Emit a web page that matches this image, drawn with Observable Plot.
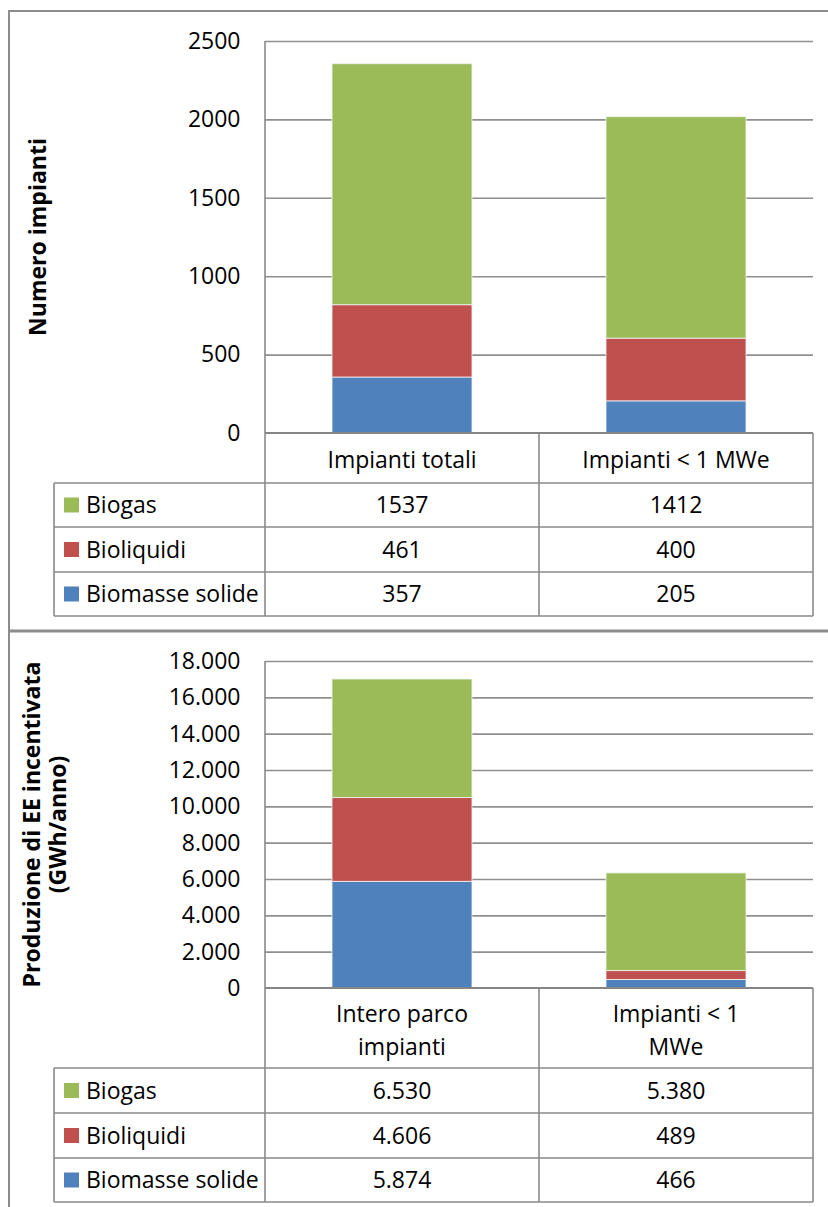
<!DOCTYPE html>
<html><head><meta charset="utf-8">
<script src="https://cdn.jsdelivr.net/npm/d3@7"></script>
<script src="https://cdn.jsdelivr.net/npm/@observablehq/plot@0.6"></script>
<style>
body{margin:0;background:#fff;}
#wrap{position:relative;width:828px;height:1207px;overflow:hidden;font-family:"Open Sans",sans-serif;}
#wrap svg{position:absolute;left:0;}
</style></head><body><div id="wrap"></div>
<script>
// ---- data ----
const series = ["Biomasse solide", "Bioliquidi", "Biogas"];      // stack order bottom -> top
const tableOrder = ["Biogas", "Bioliquidi", "Biomasse solide"]; // table row order
const colors = ["#4F81BD", "#C0504D", "#9BBB59"];

const catsTop = ["Impianti totali", "Impianti < 1 MWe"];
const biogasTop = [1537, 1412];
const bioliquidiTop = [461, 400];
const biomasseTop = [357, 205];
const ticksTop = [0, 500, 1000, 1500, 2000, 2500];

const catsBottom = ["Intero parco impianti", "Impianti < 1 MWe"];
const catsBottomLines = [["Intero parco", "impianti"], ["Impianti < 1", "MWe"]];
const biogasBottom = [6530, 5380];
const bioliquidiBottom = [4606, 489];
const biomasseBottom = [5874, 466];
const ticksBottom = [0, 2000, 4000, 6000, 8000, 10000, 12000, 14000, 16000, 18000];

const itLocale = d3.formatLocale({decimal: ",", thousands: ".", grouping: [3], currency: ["€", ""]});
const fmtIt = itLocale.format(",d");
const fmtPlain = d3.format("d");

function rows(cats, bm, bl, bg) {
  const out = [];
  cats.forEach((c, i) => {
    out.push({cat: c, series: "Biomasse solide", value: bm[i]});
    out.push({cat: c, series: "Bioliquidi", value: bl[i]});
    out.push({cat: c, series: "Biogas", value: bg[i]});
  });
  return out;
}

const wrap = document.getElementById("wrap");
const GRID = "#8f8f8f";
const LINE = "#8a8a8a";
const FS = 23;
const FONT = "'Open Sans', sans-serif";

function panel(o) {
  const data = rows(o.cats, o.bm, o.bl, o.bg);
  const plot = Plot.plot({
    width: 828, height: o.height,
    marginTop: o.mTop, marginBottom: o.mBottom, marginLeft: 265, marginRight: 15,
    style: {fontFamily: FONT, fontSize: FS + "px", color: "#000", background: "transparent"},
    x: {domain: o.cats, paddingInner: 0.49, paddingOuter: 0.245, axis: null},
    y: {domain: [0, o.ticks[o.ticks.length - 1]], label: null},
    color: {domain: series, range: colors},
    marks: [
      Plot.gridY(o.ticks.slice(1), {stroke: GRID, strokeOpacity: 1, strokeWidth: 1.6}),
      Plot.barY(data, {x: "cat", y: "value", fill: "series", order: series, stroke: "#f4f4f4", strokeWidth: 0.8}),
      Plot.axisY(o.ticks, {tickSize: 0, tickPadding: 25, tickFormat: o.fmt, label: null, fontSize: FS})
    ]
  });
  plot.style.top = o.top + "px";
  wrap.appendChild(plot);

  const xs = plot.scale("x"), ys = plot.scale("y");
  const svg = d3.select(plot);
  const g = svg.append("g").attr("font-family", FONT).attr("font-size", FS).attr("fill", "#000");
  const centers = o.cats.map(c => xs.apply(c) + xs.bandwidth / 2);
  const colX = [265, (centers[0] + centers[1]) / 2, 828 - 15];
  const y0 = ys.apply(0);
  const rY = o.rowYs;
  const yTopPlot = ys.apply(o.ticks[o.ticks.length - 1]);
  const tableBottom = rY[rY.length - 1];

  const line = (x1, y1, x2, y2, w, c) => g.append("line")
    .attr("x1", x1).attr("y1", y1).attr("x2", x2).attr("y2", y2)
    .attr("stroke", c || LINE).attr("stroke-width", w || 1.6);

  line(colX[0], yTopPlot, colX[0], tableBottom);
  line(colX[1], y0, colX[1], tableBottom);
  line(colX[2], y0, colX[2], tableBottom);
  line(54, rY[0], 54, tableBottom);
  line(colX[0], y0, colX[2], y0, 2, "#858585");
  rY.forEach(y => line(54, y, colX[2], y));

  const text = (x, y, t, anchor, extra) => {
    const el = g.append("text").attr("x", x).attr("y", y).attr("dy", "0.36em")
      .attr("text-anchor", anchor).attr("fill", "#000").text(t);
    return el;
  };

  o.headLines.forEach((lines, i) => {
    const cy = (y0 + rY[0]) / 2 + 2;
    const n = lines.length;
    lines.forEach((t, k) => text(centers[i], cy + (k - (n - 1) / 2) * o.headLH, t, "middle"));
  });

  const vals = {"Biogas": o.bg, "Bioliquidi": o.bl, "Biomasse solide": o.bm};
  tableOrder.forEach((s, r) => {
    const cy = (rY[r] + rY[r + 1]) / 2;
    g.append("rect").attr("x", 64).attr("y", cy - 7.5).attr("width", 15).attr("height", 15)
      .attr("fill", colors[series.indexOf(s)]);
    text(86, cy, s, "start");
    vals[s].forEach((v, i) => text(centers[i], cy, o.fmt(v), "middle"));
  });

  const midY = (yTopPlot + y0) / 2;
  o.yLabel.forEach((t, k) => {
    g.append("text").attr("transform", `translate(${o.yLabelX[k]},${midY}) rotate(-90)`)
      .attr("dy", "0.36em").attr("text-anchor", "middle")
      .attr("font-weight", "bold").attr("fill", "#000").text(t);
  });
  return g;
}

const gTop = panel({
  top: 0, height: 625, mTop: 41, mBottom: 625 - 433,
  cats: catsTop, headLines: catsTop.map(c => [c]), headLH: 0,
  bm: biomasseTop, bl: bioliquidiTop, bg: biogasTop,
  ticks: ticksTop, fmt: fmtPlain,
  rowYs: [483, 527, 572, 616],
  yLabel: ["Numero impianti"], yLabelX: [38]
});
gTop.append("line").attr("x1", 9).attr("y1", 11).attr("x2", 9).attr("y2", 625).attr("stroke", "#8c8c8c").attr("stroke-width", 2);
gTop.append("line").attr("x1", 8).attr("y1", 11).attr("x2", 828).attr("y2", 11).attr("stroke", "#8c8c8c").attr("stroke-width", 2);

const OFF = 625;
const gBot = panel({
  top: OFF, height: 1207 - OFF, mTop: 661 - OFF, mBottom: 1207 - 988,
  cats: catsBottom, headLines: catsBottomLines, headLH: 33,
  bm: biomasseBottom, bl: bioliquidiBottom, bg: biogasBottom,
  ticks: ticksBottom, fmt: fmtIt,
  rowYs: [1068 - OFF, 1113 - OFF, 1158 - OFF, 1202 - OFF],
  yLabel: ["Produzione di EE incentivata", "(GWh/anno)"], yLabelX: [32, 58]
});
gBot.append("line").attr("x1", 9).attr("y1", 0).attr("x2", 9).attr("y2", 1207 - OFF).attr("stroke", "#8c8c8c").attr("stroke-width", 2);
gBot.append("line").attr("x1", 8).attr("y1", 631 - OFF).attr("x2", 828).attr("y2", 631 - OFF).attr("stroke", "#8c8c8c").attr("stroke-width", 3);
</script></body></html>
